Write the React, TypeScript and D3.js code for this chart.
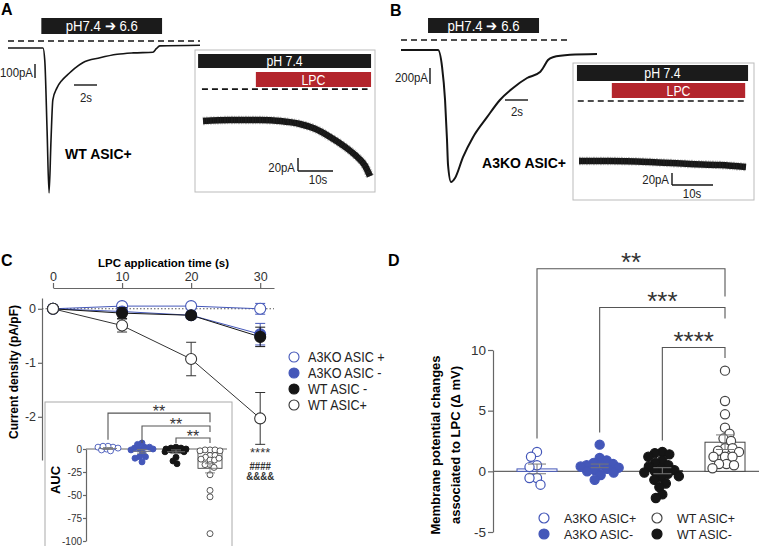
import React, { useRef, useEffect } from "react";
import * as d3 from "d3";

const SANS = "'Liberation Sans', Arial, Helvetica, sans-serif";
const BLUE = "#4457b9";
const RED = "#b3252c";
const INK = "#151515";
const AXIS = "#666";

// Panel A: WT ASIC+ current, pH 7.4 -> 6.6 (time s, current pA)
const traceATime = [0, 3.04, 3.2, 3.4, 3.57, 3.74, 3.9, 4.26, 4.7, 5.13, 5.8, 6.5, 8.0, 9.5, 10.9, 12.6, 12.9, 13.2, 16.7];
const traceACurrent = [0, 0, -90, -590, -1035, -660, -370, -285, -230, -195, -145, -105, -70, -45, -35, -30, -5, 15, 20];
const phWindowA = [2.9, 13.4];
// Panel A inset: LPC at pH 7.4
const lpcATime = [0, 7.7, 16.3, 22, 27.7, 32, 36.3, 40.6, 44, 46.3, 47.7];
const lpcACurrent = [0, 1.5, 1.5, 0, -4.6, -12, -24.6, -40, -55, -69, -85];
const phWindowAi = [-1.4, 48];
const lpcWindowAi = [15.1, 48];

// Panel B: A3KO ASIC+ current
const traceBTime = [0, 3.22, 3.57, 3.83, 4.0, 4.09, 4.35, 4.7, 5.39, 6.26, 7.48, 8.6, 9.74, 10.96, 12.09, 12.35, 12.78, 13.2, 14.7, 17.04];
const traceBCurrent = [0, 0, -210, -625, -1125, -1440, -1650, -1600, -1340, -1090, -840, -625, -475, -350, -275, -225, -125, -90, -60, -50];
const phWindowB = [2.35, 12.0];
const lpcBTime = [0, 7.6, 17.3, 27, 34.4, 40.7];
const lpcBCurrent = [0, 0, -1.7, -5, -6.7, -10];
const phWindowBi = [-0.5, 41.2];
const lpcWindowBi = [8, 40.5];

// Panel C: current density over LPC application time
const lpcTimes = [0, 10, 20, 30];
const densA3koPlus = [0, 0.05, 0.05, 0.0];
const errA3koPlus = [0, 0.05, 0.04, 0.1];
const densA3koMinus = [0, -0.05, -0.12, -0.47];
const errA3koMinus = [0, 0.05, 0.05, 0.2];
const densWtMinus = [0, -0.08, -0.12, -0.52];
const errWtMinus = [0, 0.1, 0.05, 0.18];
const densWtPlus = [0, -0.31, -0.93, -2.03];
const errWtPlus = [0, 0.12, 0.31, 0.48];

// Panel C inset: AUC per cell
const aucA3koPlus = [2, 2, 0, 1, 3, -1, 3, -2];
const aucA3koMinus = [1, 0, 2, 6.5, -1, 2, 5, 0, -8.5, -10, -4.5, -14, -8.5];
const aucWtMinus = [1, -1, 2, 0, -1, 1, -1, -3, -3, -13, -16, -9, 0];
const aucWtPlus = [-1, -1, -2, -1, -2, -7, -9, -7, -12, -12, -11, -10, -17, -20, -17, -28, -45, -52, -92];
const aucMean = [0.5, -2.5, -3, -21];
const aucErr = [1, 2, 2, 5];

// Panel D: membrane potential change (mV)
const dmvA3koPlus = [1.6, 1.2, 0.5, 0.35, -0.55, -0.55, -1.1];
const dmvA3koMinus = [2.2, 1.1, 0.9, 0.7, 0.6, 0.5, 0.5, 0.4, 0.3, 0.2, 0.1, 0.0, -0.1, -0.3, -0.7];
const dmvWtMinus = [1.6, 1.5, 1.4, 1.2, 0.9, 0.7, 0.5, 0.4, 0.2, 0.1, 0.0, -0.1, -0.2, -0.4, -0.5, -0.7, -1.0, -1.3, -1.9, -2.2];
const dmvWtPlus = [8.3, 5.8, 4.7, 3.6, 3.1, 2.7, 2.5, 1.9, 1.9, 1.7, 1.6, 1.2, 1.2, 1.2, 0.6, 0.6, 0.5, 0.25];
const dmvMean = [0.2, 0.45, 0.05, 2.4];
const dmvErr = [0.4, 0.15, 0.25, 0.6];

const groupKeys = ["A3KO+", "A3KO-", "WT-", "WT+"];

// compact beeswarm: points may overlap a little, spread is capped
function swarm(vals: number[], y: (v: number) => number, d: number, maxSpread: number) {
  const pts = vals.map((v) => ({ v, py: y(v), dx: 0 }));
  const order = [...pts].sort((a, b) => a.py - b.py);
  const placed: typeof pts = [];
  order.forEach((p, k) => {
    let best = 0;
    let bestPen = Infinity;
    outer: for (let c = 0; c <= maxSpread; c += 0.5) {
      const opts = c === 0 ? [0] : k % 2 ? [-c, c] : [c, -c];
      for (const s of opts) {
        let pen = 0;
        for (const q of placed) {
          const dist = Math.hypot(q.dx - s, q.py - p.py);
          if (dist < d) pen += d - dist;
        }
        if (pen < bestPen - 1e-6) {
          bestPen = pen;
          best = s;
        }
        if (pen === 0) break outer;
      }
    }
    p.dx = best;
    placed.push(p);
  });
  return pts;
}

function Axis({ axis, x = 0, y = 0, size }: any) {
  const ref = useRef<SVGGElement>(null);
  useEffect(() => {
    const g = d3.select(ref.current);
    g.selectAll("*").remove();
    g.call(axis);
    g.selectAll(".domain, .tick line").attr("stroke", AXIS).attr("stroke-width", 1.2);
    g.selectAll("text").attr("font-family", SANS).attr("font-size", size).attr("fill", "#333");
  });
  return <g ref={ref} transform={`translate(${x},${y})`} />;
}

// condensed-looking text (the figure uses a narrow face)
function NText({ x, y, size, anchor = "start", fill = "#222", sx = 0.88, weight = "normal", children }: any) {
  return (
    <text transform={`translate(${x},${y}) scale(${sx},1)`} textAnchor={anchor} fontSize={size} fill={fill} fontWeight={weight}>
      {children}
    </text>
  );
}

function traceLine(ts: number[], x: any, y: any) {
  return d3.line<number>().x((_, i) => x(ts[i])).y((d) => y(d)).curve(d3.curveMonotoneX);
}

function SolutionBar({ x0, x1, y, h, fill, label, size }: any) {
  return (
    <g>
      <rect x={x0} y={y} width={x1 - x0} height={h} fill={fill} />
      <NText x={(x0 + x1) / 2} y={y + h / 2 + size * 0.36} anchor="middle" fill="#fff" size={size}>{label}</NText>
    </g>
  );
}

export default function App() {
  const xA = d3.scaleLinear().domain([0, 16.7]).range([8, 200]);
  const yA = d3.scaleLinear().domain([0, -100]).range([48, 62]);
  const xAi = d3.scaleLinear().domain([0, 47.7]).range([203, 370]);
  const yAi = d3.scaleLinear().domain([0, -20]).range([121, 134]);
  const xB = d3.scaleLinear().domain([0, 17.04]).range([401, 597]);
  const yB = d3.scaleLinear().domain([0, -200]).range([50, 66]);
  const xBi = d3.scaleLinear().domain([0, 40.7]).range([579, 746]);
  const yBi = d3.scaleLinear().domain([0, -20]).range([161, 173]);

  const xC = d3.scaleLinear().domain([0, 32]).range([53, 274]);
  const yC = d3.scaleLinear().domain([-2.8, 0.2]).range([460, 298]);
  const yIn = d3.scaleLinear().domain([-100, 0]).range([541, 449]);
  const xIn = d3.scalePoint().domain(groupKeys).range([108, 210]);
  const yD = d3.scaleLinear().domain([-5, 10]).range([532, 350]);
  const xD = d3.scalePoint().domain(groupKeys).range([537, 725]);

  const seriesC = [
    { name: "A3KO ASIC +", mean: densA3koPlus, err: errA3koPlus, color: BLUE, filled: false },
    { name: "A3KO ASIC -", mean: densA3koMinus, err: errA3koMinus, color: BLUE, filled: true },
    { name: "WT ASIC -", mean: densWtMinus, err: errWtMinus, color: INK, filled: true },
    { name: "WT ASIC+", mean: densWtPlus, err: errWtPlus, color: "#333", filled: false },
  ];
  const aucGroups = [
    { key: "A3KO+", vals: aucA3koPlus, color: BLUE, filled: false },
    { key: "A3KO-", vals: aucA3koMinus, color: BLUE, filled: true },
    { key: "WT-", vals: aucWtMinus, color: INK, filled: true },
    { key: "WT+", vals: aucWtPlus, color: "#444", filled: false },
  ];
  const dmvGroups = [
    { key: "A3KO+", vals: dmvA3koPlus, color: BLUE, filled: false },
    { key: "A3KO-", vals: dmvA3koMinus, color: BLUE, filled: true },
    { key: "WT-", vals: dmvWtMinus, color: INK, filled: true },
    { key: "WT+", vals: dmvWtPlus, color: "#444", filled: false },
  ];
  const aucBrackets = [
    { from: "A3KO+", top: 39, left: 10, right: 29 },
    { from: "A3KO-", top: 25, left: 6.5, right: 18.5 },
    { from: "WT-", top: 12, left: 6.5, right: 6.5 },
  ];
  const dmvBrackets = [
    { from: "A3KO+", top: 16.7, left: 2.7, right: 14.4, label: "**" },
    { from: "A3KO-", top: 13.5, left: 3.2, right: 12.6, label: "***" },
    { from: "WT-", top: 10.2, left: 2.55, right: 9.35, label: "****" },
  ];

  const dashed = { stroke: INK, strokeWidth: 1.6, strokeDasharray: "6,4" };
  const scale = { stroke: INK, strokeWidth: 1.4 };
  const grey = { stroke: "#555", strokeWidth: 1.1, fill: "none" };

  return (
    <svg width={759} height={546} style={{ position: "absolute", left: 0, top: 0, background: "#fff" }} fontFamily={SANS}>
      {/* ---------- A ---------- */}
      <text x={1} y={15} fontSize={16} fontWeight="bold">A</text>
      <SolutionBar x0={xA(phWindowA[0])} x1={xA(phWindowA[1])} y={18} h={16} fill="#1b1b1b" label="pH7.4 ➔ 6.6" size={15} />
      <line x1={xA(0)} x2={xA(16.7)} y1={yA(50)} y2={yA(50)} {...dashed} />
      <path d={traceLine(traceATime, xA, yA)(traceACurrent)!} fill="none" stroke={INK} strokeWidth={1.6} />
      <line x1={35} x2={35} y1={64} y2={64 + yA(-100) - yA(0)} {...scale} />
      <NText x={33} y={77} anchor="end" size={13}>100pA</NText>
      <line x1={74} x2={74 + xA(2) - xA(0)} y1={85} y2={85} {...scale} />
      <NText x={86} y={102} anchor="middle" size={13}>2s</NText>
      <text x={65} y={159} fontSize={14} fontWeight="bold">WT ASIC+</text>

      <rect x={195} y={50} width={180} height={142} fill="#fff" stroke="#bbb" />
      <SolutionBar x0={xAi(phWindowAi[0])} x1={xAi(phWindowAi[1])} y={54} h={14} fill="#1b1b1b" label="pH 7.4" size={14} />
      <SolutionBar x0={xAi(lpcWindowAi[0])} x1={xAi(lpcWindowAi[1])} y={72} h={15} fill={RED} label="LPC" size={14} />
      <line x1={xAi(-0.3)} x2={xAi(47)} y1={yAi(49)} y2={yAi(49)} {...dashed} />
      <path d={traceLine(lpcATime, xAi, yAi)(lpcACurrent)!} fill="none" stroke={INK} strokeWidth={6.5} />
      <path d={traceLine(lpcATime, xAi, yAi)(lpcACurrent)!} fill="none" stroke="#333" strokeOpacity={0.6} strokeWidth={8.5} strokeDasharray="0.5,0.9,0.4,1.7" />
      <line x1={298} x2={298} y1={158} y2={158 + yAi(-20) - yAi(0)} {...scale} />
      <line x1={298} x2={298 + xAi(10) - xAi(0)} y1={171} y2={171} {...scale} />
      <NText x={295} y={172} anchor="end" size={13}>20pA</NText>
      <NText x={318} y={184} anchor="middle" size={13}>10s</NText>

      {/* ---------- B ---------- */}
      <text x={390} y={16} fontSize={16} fontWeight="bold">B</text>
      <SolutionBar x0={xB(phWindowB[0])} x1={xB(phWindowB[1])} y={18} h={15} fill="#1b1b1b" label="pH7.4 ➔ 6.6" size={15} />
      <line x1={xB(0)} x2={xB(14.7)} y1={yB(125)} y2={yB(125)} {...dashed} />
      <path d={traceLine(traceBTime, xB, yB)(traceBCurrent)!} fill="none" stroke={INK} strokeWidth={2} />
      <line x1={430} x2={430} y1={68} y2={68 + yB(-200) - yB(0)} {...scale} />
      <NText x={428} y={82} anchor="end" size={13}>200pA</NText>
      <line x1={505} x2={505 + xB(2) - xB(0)} y1={100} y2={100} {...scale} />
      <NText x={517} y={116} anchor="middle" size={13}>2s</NText>
      <text x={566} y={168} textAnchor="end" fontSize={14} fontWeight="bold">A3KO ASIC+</text>

      <rect x={573} y={63} width={181} height={137} fill="#fff" stroke="#bbb" />
      <SolutionBar x0={xBi(phWindowBi[0])} x1={xBi(phWindowBi[1])} y={65} h={16} fill="#1b1b1b" label="pH 7.4" size={14} />
      <SolutionBar x0={xBi(lpcWindowBi[0])} x1={xBi(lpcWindowBi[1])} y={83} h={15} fill={RED} label="LPC" size={14} />
      <line x1={xBi(-0.3)} x2={xBi(40.5)} y1={yBi(100)} y2={yBi(100)} {...dashed} />
      <path d={traceLine(lpcBTime, xBi, yBi)(lpcBCurrent)!} fill="none" stroke={INK} strokeWidth={6.5} />
      <path d={traceLine(lpcBTime, xBi, yBi)(lpcBCurrent)!} fill="none" stroke="#333" strokeOpacity={0.6} strokeWidth={8.5} strokeDasharray="0.5,0.9,0.4,1.7" />
      <line x1={672} x2={672} y1={173} y2={173 + yBi(-20) - yBi(0)} {...scale} />
      <line x1={672} x2={672 + xBi(10) - xBi(0)} y1={185} y2={185} {...scale} />
      <NText x={669} y={184} anchor="end" size={13}>20pA</NText>
      <NText x={692} y={198} anchor="middle" size={13}>10s</NText>

      {/* ---------- C ---------- */}
      <text x={1} y={266} fontSize={16} fontWeight="bold">C</text>
      <text x={(xC(0) + xC(32)) / 2} y={267} textAnchor="middle" fontSize={11.5} fontWeight="bold">LPC application time (s)</text>
      <Axis axis={d3.axisTop(xC).tickValues(lpcTimes).tickSize(5).tickSizeOuter(0).tickPadding(2)} y={288} size={12.5} />
      <Axis axis={d3.axisLeft(yC).tickValues([0, -1, -2]).tickFormat((d: any) => String(d)).tickSize(4).tickSizeOuter(0).tickPadding(2)} x={42} size={12.5} />
      <text transform={`translate(18,372) rotate(-90)`} textAnchor="middle" fontSize={12} fontWeight="bold">Current density (pA/pF)</text>
      <line x1={42} x2={274} y1={yC(0)} y2={yC(0)} stroke="#555" strokeWidth={1.1} strokeDasharray="1.5,2" />
      {seriesC.map((s) => (
        <path key={s.name + "l"} d={d3.line<number>().x((_, i) => xC(lpcTimes[i])).y((d) => yC(d))(s.mean)!} fill="none" stroke={s.color} strokeWidth={1} />
      ))}
      {seriesC.map((s) => (
        <g key={s.name}>
          {s.mean.map((m, i) =>
            i === 0 ? null : (
              <path key={i} d={`M${xC(lpcTimes[i]) - 5},${yC(m - s.err[i])}H${xC(lpcTimes[i]) + 5}M${xC(lpcTimes[i])},${yC(m - s.err[i])}V${yC(m + s.err[i])}M${xC(lpcTimes[i]) - 5},${yC(m + s.err[i])}H${xC(lpcTimes[i]) + 5}`} stroke={s.color} strokeWidth={1} fill="none" />
            )
          )}
          {s.mean.map((m, i) => (
            <circle key={"c" + i} cx={xC(lpcTimes[i])} cy={yC(m)} r={5.5} fill={s.filled ? s.color : "#fff"} stroke={s.color} strokeWidth={1.1} />
          ))}
        </g>
      ))}
      <text x={xC(30)} y={457} textAnchor="middle" fontSize={13} fill="#333">****</text>
      <NText x={xC(30)} y={469.5} anchor="middle" size={11} weight="bold" fill="#333">####</NText>
      <NText x={xC(30)} y={480} anchor="middle" size={11} weight="bold" fill="#333">&amp;&amp;&amp;&amp;</NText>
      {seriesC.map((s, i) => (
        <g key={"lg" + i} transform={`translate(294,${357 + i * 16})`}>
          <circle r={5} fill={s.filled ? s.color : "#fff"} stroke={s.color} strokeWidth={1.1} />
          <NText x={14} y={4.6} size={14} sx={0.9}>{s.name}</NText>
        </g>
      ))}

      {/* C inset: AUC */}
      <rect x={45} y={402} width={187} height={150} fill="#fff" stroke="#aaa" />
      <Axis axis={d3.axisLeft(yIn).tickValues([0, -25, -50, -75, -100]).tickFormat((d: any) => String(d)).tickSize(3).tickSizeOuter(0).tickPadding(1)} x={86} size={10} />
      <line x1={86} x2={227} y1={yIn(0)} y2={yIn(0)} stroke={AXIS} strokeWidth={1.1} />
      <text transform={`translate(60,480) rotate(-90)`} textAnchor="middle" fontSize={13} fontWeight="bold">AUC</text>
      {aucGroups.map((g, gi) => {
        const cx = xIn(g.key)!;
        return (
          <g key={g.key}>
            <rect x={cx - 12} y={Math.min(yIn(aucMean[gi]), yIn(0))} width={24} height={Math.abs(yIn(aucMean[gi]) - yIn(0))} fill="#fff" stroke={g.color} strokeWidth={0.9} />
            {swarm(g.vals, yIn, 4.6, 11).map((p, i) => (
              <circle key={i} cx={cx + p.dx} cy={p.py} r={3} fill={g.filled ? g.color : "#fff"} stroke={g.color} strokeWidth={0.9} />
            ))}
            <path d={`M${cx - 5},${yIn(aucMean[gi] - aucErr[gi])}H${cx + 5}M${cx},${yIn(aucMean[gi] - aucErr[gi])}V${yIn(aucMean[gi] + aucErr[gi])}M${cx - 5},${yIn(aucMean[gi] + aucErr[gi])}H${cx + 5}M${cx - 9},${yIn(aucMean[gi])}H${cx + 9}`} stroke="#777" strokeWidth={0.9} fill="none" />
          </g>
        );
      })}
      {aucBrackets.map((b, i) => {
        const x1 = xIn(b.from)!;
        const x2 = xIn("WT+")!;
        return (
          <g key={"ab" + i}>
            <path d={`M${x1},${yIn(b.left)}V${yIn(b.top)}H${x2}V${yIn(b.right)}`} {...grey} />
            <text x={(x1 + x2) / 2} y={yIn(b.top) + 4} textAnchor="middle" fontSize={16} fill="#333">**</text>
          </g>
        );
      })}

      {/* ---------- D ---------- */}
      <text x={388} y={266} fontSize={16} fontWeight="bold">D</text>
      <Axis axis={d3.axisLeft(yD).tickValues([-5, 0, 5, 10]).tickFormat((d: any) => String(d)).tickSize(5).tickSizeOuter(0).tickPadding(2)} x={493} size={13.5} />
      <line x1={493} x2={759} y1={yD(0)} y2={yD(0)} stroke={AXIS} strokeWidth={1.2} />
      <text transform={`translate(440,445) rotate(-90)`} textAnchor="middle" fontSize={13} fontWeight="bold">Membrane potential changes</text>
      <text transform={`translate(460,445) rotate(-90)`} textAnchor="middle" fontSize={13} fontWeight="bold">associated to LPC (Δ mV)</text>
      {dmvGroups.map((g, gi) => {
        const cx = xD(g.key)!;
        return (
          <g key={g.key}>
            <rect x={cx - 20} y={Math.min(yD(dmvMean[gi]), yD(0))} width={40} height={Math.abs(yD(dmvMean[gi]) - yD(0))} fill="#fff" stroke={g.color} strokeWidth={1} />
            {swarm(g.vals, yD, 7.4, 19).map((p, i) => (
              <circle key={i} cx={cx + p.dx} cy={p.py} r={4.6} fill={g.filled ? g.color : "#fff"} stroke={g.color} strokeWidth={1.2} />
            ))}
            <path d={`M${cx - 9},${yD(dmvMean[gi] - dmvErr[gi])}H${cx + 9}M${cx},${yD(dmvMean[gi] - dmvErr[gi])}V${yD(dmvMean[gi] + dmvErr[gi])}M${cx - 9},${yD(dmvMean[gi] + dmvErr[gi])}H${cx + 9}`} stroke="#777" strokeWidth={1} fill="none" />
          </g>
        );
      })}
      {dmvBrackets.map((b, i) => {
        const x1 = xD(b.from)!;
        const x2 = xD("WT+")!;
        return (
          <g key={"db" + i}>
            <path d={`M${x1},${yD(b.left)}V${yD(b.top)}H${x2}V${yD(b.right)}`} {...grey} />
            <text x={(x1 + x2) / 2} y={yD(b.top) + 2} textAnchor="middle" fontSize={26} fill="#333">{b.label}</text>
          </g>
        );
      })}
      {[
        { name: "A3KO ASIC+", color: BLUE, filled: false, col: 0, row: 0 },
        { name: "A3KO ASIC-", color: BLUE, filled: true, col: 0, row: 1 },
        { name: "WT ASIC+", color: "#444", filled: false, col: 1, row: 0 },
        { name: "WT ASIC-", color: INK, filled: true, col: 1, row: 1 },
      ].map((l) => (
        <g key={l.name} transform={`translate(${544 + l.col * 113},${518 + l.row * 16})`}>
          <circle r={5} fill={l.filled ? l.color : "#fff"} stroke={l.color} strokeWidth={1.2} />
          <NText x={20} y={5} size={13.5} sx={0.92}>{l.name}</NText>
        </g>
      ))}
    </svg>
  );
}
